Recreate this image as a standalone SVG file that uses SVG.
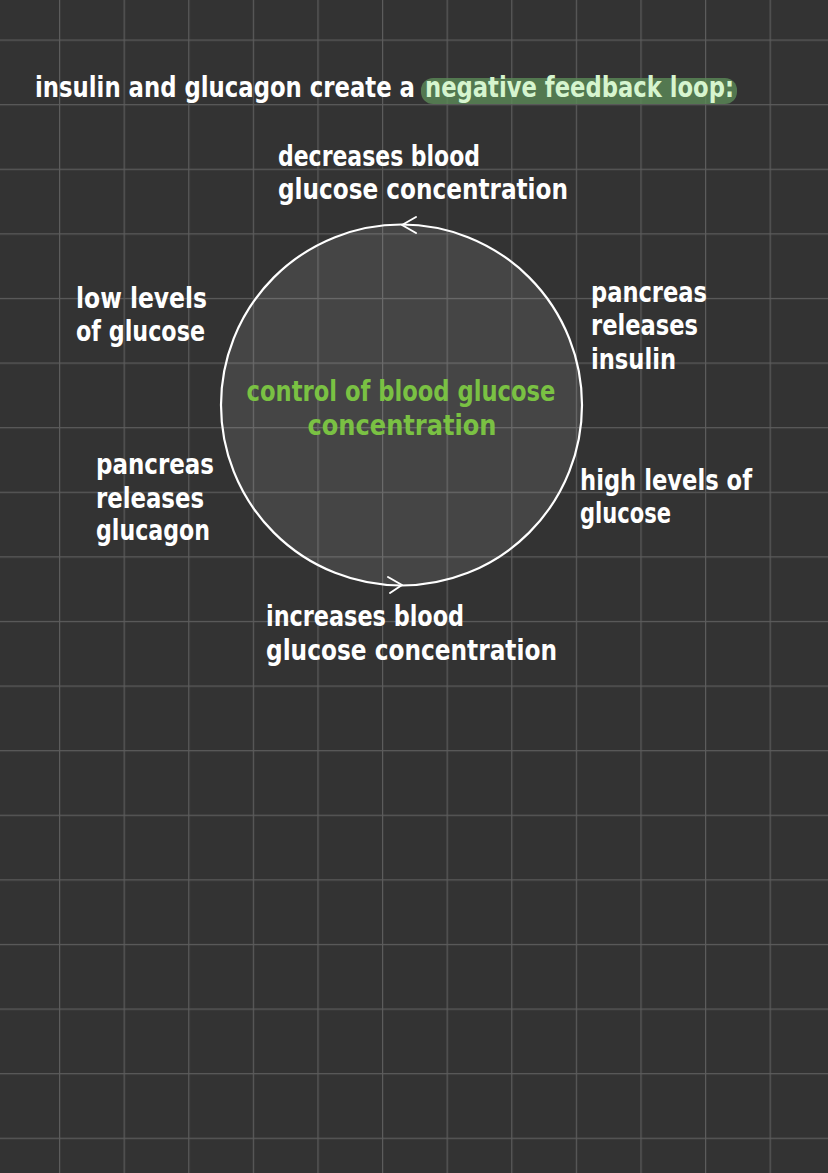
<svg xmlns="http://www.w3.org/2000/svg" width="828" height="1173" viewBox="0 0 828 1173">
  <defs>
    <pattern id="grid" x="59" y="39.5" width="64.6" height="64.6" patternUnits="userSpaceOnUse">
      <path d="M0 0 H64.6 M0 0 V64.6" stroke="#5c5c5c" stroke-width="2.4" fill="none"/>
    </pattern>
  </defs>
  <style>
    .t { font-family: "DejaVu Sans Condensed", "Liberation Sans Narrow", "Liberation Sans", sans-serif; font-weight: bold; font-size: 28px; fill: #ffffff; }
    .hl { fill: #d6f5cf; }
    .g { fill: #7ac143; }
    .arrow { fill: none; stroke: #ffffff; stroke-width: 2; stroke-linecap: round; stroke-linejoin: round; }
  </style>
  <rect width="828" height="1173" fill="#333333"/>
  <rect width="828" height="1173" fill="url(#grid)"/>

  <g id="title">
    <rect x="421" y="78" width="316" height="26" rx="12" fill="#5b8a57" opacity="0.8"/>
    <text class="t" x="35" y="97" textLength="380" lengthAdjust="spacingAndGlyphs">insulin and glucagon create a</text>
    <text class="t hl" x="425" y="97" textLength="309" lengthAdjust="spacingAndGlyphs">negative feedback loop:</text>
  </g>

  <g id="center">
    <circle cx="401.5" cy="405" r="180.5" fill="#ffffff" fill-opacity="0.09" stroke="#ffffff" stroke-width="2.2"/>
    <text class="t g" x="246.5" y="401" textLength="309" lengthAdjust="spacingAndGlyphs">control of blood glucose</text>
    <text class="t g" x="307.5" y="435" textLength="189" lengthAdjust="spacingAndGlyphs">concentration</text>
  </g>

  <g id="connectors">
    <path class="arrow" d="M416 217 L402 225 L416 233"/>
    <path class="arrow" d="M388 577 L402 585 L390 593"/>
  </g>

  <g id="decrease">
    <text class="t" x="278" y="166" textLength="202" lengthAdjust="spacingAndGlyphs">decreases blood</text>
    <text class="t" x="278" y="199" textLength="290" lengthAdjust="spacingAndGlyphs">glucose concentration</text>
  </g>

  <g id="low-levels">
    <text class="t" x="76" y="308" textLength="131" lengthAdjust="spacingAndGlyphs">low levels</text>
    <text class="t" x="76" y="341" textLength="129" lengthAdjust="spacingAndGlyphs">of glucose</text>
  </g>

  <g id="insulin">
    <text class="t" x="591" y="302" textLength="116" lengthAdjust="spacingAndGlyphs">pancreas</text>
    <text class="t" x="591" y="335" textLength="107" lengthAdjust="spacingAndGlyphs">releases</text>
    <text class="t" x="591" y="369" textLength="85" lengthAdjust="spacingAndGlyphs">insulin</text>
  </g>

  <g id="glucagon">
    <text class="t" x="96" y="474" textLength="118" lengthAdjust="spacingAndGlyphs">pancreas</text>
    <text class="t" x="96" y="508" textLength="108" lengthAdjust="spacingAndGlyphs">releases</text>
    <text class="t" x="96" y="540" textLength="114" lengthAdjust="spacingAndGlyphs">glucagon</text>
  </g>

  <g id="high-levels">
    <text class="t" x="580" y="490" textLength="172" lengthAdjust="spacingAndGlyphs">high levels of</text>
    <text class="t" x="580" y="523" textLength="91" lengthAdjust="spacingAndGlyphs">glucose</text>
  </g>

  <g id="increase">
    <text class="t" x="266" y="626" textLength="198" lengthAdjust="spacingAndGlyphs">increases blood</text>
    <text class="t" x="266" y="660" textLength="291" lengthAdjust="spacingAndGlyphs">glucose concentration</text>
  </g>
</svg>
